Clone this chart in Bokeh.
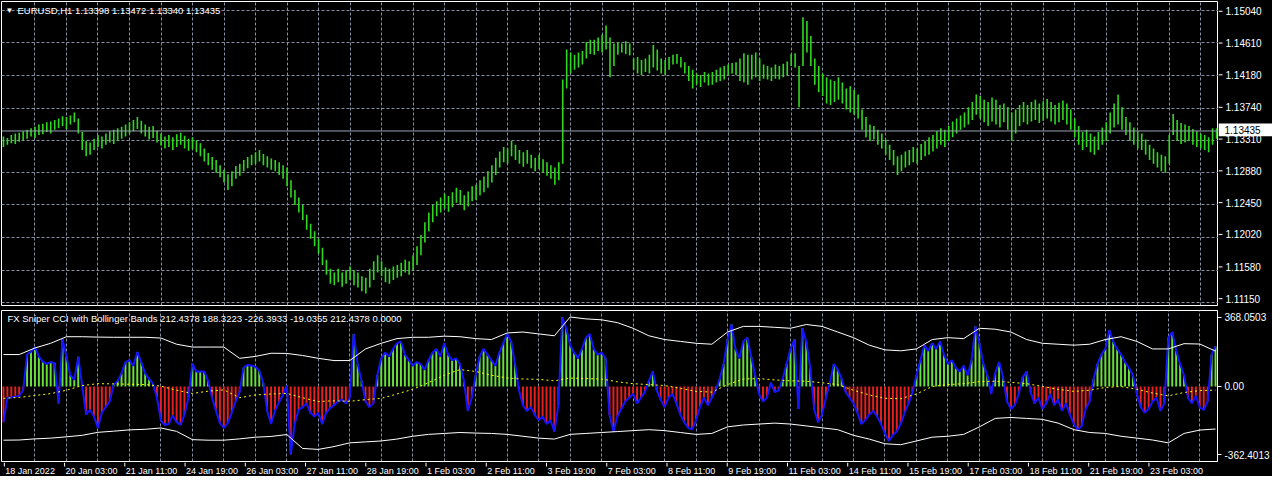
from bokeh.plotting import figure
from bokeh.layouts import column, row
from bokeh.models import (FixedTicker, CustomJSTickFormatter, Label, Span, Range1d)
from bokeh.core.properties import value
from bokeh.embed import file_html
from bokeh.resources import INLINE

# ---------------- data (2-hour steps) ----------------
lows = [1.1322,1.1325,1.1327,1.1326,1.1329,1.1331,1.1333,1.1336,1.1334,1.1338,
        1.1339,1.1342,1.1340,1.1345,1.1347,1.1350,1.1346,1.1352,1.1355,1.1340,
        1.1318,1.1310,1.1312,1.1318,1.1322,1.1320,1.1325,1.1328,1.1326,1.1330,
        1.1333,1.1336,1.1340,1.1343,1.1346,1.1340,1.1336,1.1332,1.1334,1.1328,
        1.1324,1.1320,1.1322,1.1318,1.1322,1.1325,1.1320,1.1317,1.1319,1.1315,
        1.1310,1.1303,1.1298,1.1292,1.1288,1.1282,1.1275,1.1265,1.1270,1.1280,
        1.1284,1.1290,1.1294,1.1298,1.1300,1.1303,1.1298,1.1295,1.1292,1.1290,
        1.1285,1.1280,1.1270,1.1255,1.1245,1.1235,1.1225,1.1212,1.1200,1.1190,
        1.1180,1.1165,1.1152,1.1140,1.1138,1.1142,1.1136,1.1140,1.1145,1.1138,
        1.1135,1.1130,1.1127,1.1135,1.1145,1.1155,1.1150,1.1142,1.1140,1.1145,
        1.1148,1.1150,1.1155,1.1152,1.1158,1.1165,1.1178,1.1195,1.1210,1.1222,
        1.1230,1.1235,1.1240,1.1236,1.1242,1.1248,1.1245,1.1238,1.1243,1.1250,
        1.1252,1.1258,1.1262,1.1268,1.1275,1.1285,1.1295,1.1302,1.1300,1.1310,
        1.1305,1.1300,1.1296,1.1300,1.1294,1.1290,1.1293,1.1288,1.1284,1.1280,
        1.1272,1.1278,1.1300,1.1400,1.1420,1.1425,1.1428,1.1432,1.1440,1.1446,
        1.1445,1.1450,1.1448,1.1452,1.1415,1.1430,1.1445,1.1448,1.1446,1.1444,
        1.1425,1.1420,1.1418,1.1422,1.1420,1.1428,1.1424,1.1420,1.1418,1.1425,
        1.1432,1.1433,1.1428,1.1420,1.1410,1.1400,1.1405,1.1402,1.1408,1.1404,
        1.1405,1.1408,1.1410,1.1412,1.1418,1.1420,1.1418,1.1410,1.1408,1.1405,
        1.1412,1.1415,1.1410,1.1413,1.1412,1.1410,1.1413,1.1412,1.1415,1.1418,
        1.1430,1.1428,1.1375,1.1430,1.1448,1.1430,1.1405,1.1395,1.1390,1.1380,
        1.1378,1.1382,1.1385,1.1380,1.1372,1.1368,1.1365,1.1360,1.1345,1.1335,
        1.1330,1.1332,1.1325,1.1320,1.1312,1.1305,1.1298,1.1285,1.1290,1.1295,
        1.1298,1.1302,1.1300,1.1305,1.1310,1.1312,1.1316,1.1320,1.1325,1.1322,
        1.1330,1.1335,1.1340,1.1345,1.1348,1.1352,1.1358,1.1365,1.1360,1.1355,
        1.1350,1.1356,1.1352,1.1348,1.1355,1.1345,1.1330,1.1340,1.1350,1.1355,
        1.1352,1.1356,1.1358,1.1354,1.1357,1.1360,1.1356,1.1352,1.1355,1.1358,
        1.1352,1.1345,1.1335,1.1325,1.1318,1.1322,1.1315,1.1312,1.1318,1.1325,
        1.1330,1.1340,1.1348,1.1352,1.1345,1.1338,1.1330,1.1325,1.1320,1.1318,
        1.1312,1.1305,1.1300,1.1295,1.1290,1.1288,1.1300,1.1338,1.1330,1.1326,
        1.1328,1.1330,1.1325,1.1322,1.1320,1.1318,1.1315,1.1325,1.1333]

highs = [1.1336,1.1334,1.1338,1.1340,1.1341,1.1343,1.1345,1.1347,1.1349,1.1352,
         1.1353,1.1355,1.1356,1.1358,1.1360,1.1363,1.1362,1.1364,1.1368,1.1360,
         1.1342,1.1330,1.1328,1.1333,1.1338,1.1336,1.1340,1.1343,1.1345,1.1347,
         1.1349,1.1352,1.1355,1.1358,1.1362,1.1357,1.1352,1.1349,1.1350,1.1344,
         1.1340,1.1336,1.1338,1.1335,1.1339,1.1341,1.1337,1.1333,1.1335,1.1331,
         1.1327,1.1320,1.1314,1.1309,1.1305,1.1298,1.1292,1.1286,1.1290,1.1297,
         1.1300,1.1305,1.1309,1.1312,1.1315,1.1318,1.1313,1.1310,1.1307,1.1305,
         1.1302,1.1298,1.1295,1.1278,1.1265,1.1255,1.1245,1.1232,1.1220,1.1210,
         1.1200,1.1188,1.1172,1.1160,1.1155,1.1160,1.1155,1.1158,1.1163,1.1158,
         1.1155,1.1150,1.1148,1.1160,1.1170,1.1178,1.1170,1.1162,1.1160,1.1163,
         1.1165,1.1168,1.1172,1.1170,1.1178,1.1190,1.1205,1.1222,1.1235,1.1245,
         1.1250,1.1255,1.1260,1.1257,1.1262,1.1268,1.1265,1.1258,1.1263,1.1270,
         1.1272,1.1278,1.1283,1.1290,1.1298,1.1308,1.1316,1.1322,1.1320,1.1330,
         1.1325,1.1318,1.1315,1.1318,1.1312,1.1308,1.1312,1.1306,1.1302,1.1298,
         1.1295,1.1302,1.1412,1.1452,1.1448,1.1445,1.1448,1.1450,1.1462,1.1465,
         1.1465,1.1468,1.1472,1.1484,1.1468,1.1460,1.1462,1.1460,1.1463,1.1460,
         1.1440,1.1442,1.1438,1.1440,1.1445,1.1458,1.1452,1.1440,1.1438,1.1442,
         1.1445,1.1446,1.1442,1.1435,1.1430,1.1425,1.1420,1.1418,1.1422,1.1420,
         1.1422,1.1425,1.1428,1.1430,1.1432,1.1434,1.1435,1.1440,1.1447,1.1445,
         1.1445,1.1448,1.1440,1.1432,1.1430,1.1428,1.1432,1.1430,1.1433,1.1436,
         1.1446,1.1447,1.1430,1.1495,1.1490,1.1470,1.1440,1.1430,1.1420,1.1415,
         1.1412,1.1410,1.1415,1.1408,1.1400,1.1403,1.1398,1.1392,1.1372,1.1362,
         1.1352,1.1350,1.1345,1.1340,1.1332,1.1325,1.1318,1.1310,1.1312,1.1316,
         1.1318,1.1322,1.1320,1.1326,1.1330,1.1335,1.1338,1.1343,1.1347,1.1345,
         1.1350,1.1356,1.1360,1.1364,1.1368,1.1375,1.1382,1.1392,1.1390,1.1385,
         1.1382,1.1388,1.1385,1.1378,1.1380,1.1375,1.1368,1.1372,1.1378,1.1382,
         1.1378,1.1382,1.1385,1.1380,1.1383,1.1386,1.1382,1.1378,1.1381,1.1384,
         1.1380,1.1372,1.1360,1.1350,1.1342,1.1345,1.1340,1.1336,1.1342,1.1348,
         1.1355,1.1368,1.1380,1.1392,1.1375,1.1362,1.1355,1.1348,1.1343,1.1340,
         1.1332,1.1325,1.1320,1.1315,1.1312,1.1310,1.1338,1.1366,1.1358,1.1354,
         1.1352,1.1350,1.1346,1.1343,1.1340,1.1338,1.1335,1.1347,1.1347]

cci = [-190,-60,-58,-55,-50,-20,170,185,210,160,
       132,120,130,125,-90,253,160,60,35,158,
       5,-150,-125,-160,-221,-140,-110,-80,10,30,
       70,130,140,110,184,130,70,40,15,-60,
       -180,-205,-200,-155,-190,-205,-150,-60,123,80,
       80,80,30,-60,-130,-195,-220,-195,-140,-80,
       -30,100,115,112,105,85,20,-130,-200,-130,
       -85,-45,5,-362.4013,-200,-125,-110,-90,-140,-160,
       -140,-200,-140,-115,-100,-80,-70,-90,-60,280,
       120,30,-80,-110,-90,60,150,180,160,200,
       230,240,170,140,110,130,120,90,140,180,
       200,160,230,170,140,150,120,30,-130,-60,
       60,160,200,170,140,110,180,230,280,240,
       120,-20,-100,-130,-110,-150,-180,-160,-200,-180,
       -240,-100,368.0503,310,220,180,150,200,260,280,
       200,170,180,150,-150,-240,-160,-120,-80,-60,
       -40,-90,-60,-30,30,80,-20,-70,-110,-60,
       -40,-90,-150,-190,-220,-230,-180,-110,-60,-100,
       -60,-20,40,120,250,330,200,150,240,260,
       160,60,-40,-80,-60,20,-30,-20,40,120,
       200,250,-120,310,240,100,-120,-190,-150,-60,
       20,120,90,40,-30,-60,-90,-140,-200,-180,
       -150,-130,-160,-200,-250,-290,-260,-240,-200,-140,
       -90,-30,60,140,220,190,230,200,240,170,
       120,140,100,80,110,60,140,320,230,120,
       60,-40,70,130,50,-80,-120,-100,-40,50,
       80,-30,-90,-60,-120,-90,-40,-100,-70,-130,
       -90,-150,-200,-230,-210,-120,-80,40,120,170,
       200,300,240,200,170,130,100,60,-40,-110,
       -140,-120,-80,-60,-130,-90,260,290,190,120,
       60,-60,-90,-50,-110,-125,-80,170,212.4378]

band_idx = list(range(0, 305, 4)) + [308]
upper = [170,170,205,230,265,265,263,262,262,262,258,225,210,210,210,150,160,177,176,165,150,138,138,
         200,230,255,262,262,268,265,255,250,285,290,280,270,370,360,355,340,310,270,250,240,230,225,
         290,320,320,315,310,330,320,290,260,220,195,190,200,250,260,255,310,305,290,250,230,225,220,
         225,250,265,240,200,200,228,226,188.3223]
lower = [-286,-285,-279,-275,-268,-260,-244,-238,-231,-228,-221,-239,-283,-286,-286,-279,-270,-266,-256,
         -330,-335,-320,-300,
         -295,-290,-280,-265,-255,-250,-245,-248,-250,-255,-265,-275,-280,-255,-250,-245,-240,-235,-230,
         -235,-245,-255,-250,-215,-205,-200,-195,-200,-210,-220,-230,-260,-280,-305,-310,-290,-270,-265,
         -255,-215,-170,-165,-170,-175,-195,-230,-245,-250,-265,-275,-285,-300,-250,-232,-226.3933]
ma = [-63,-58,-48,-38,-20,5,15,14,12,10,2,-20,-37,-25,-18,-60,-45,-40,-37,-60,-80,-76,-79,
      -70,-63,-40,-15,20,60,90,80,60,45,40,38,30,45,42,40,25,15,10,5,-10,-26,-30,10,40,42,35,30,28,
      20,10,-20,-45,-63,-65,-40,0,10,15,26,28,22,15,0,-15,-26,-20,-5,0,-15,-35,-50,-32,-22,-19.0355]

price_ticks = [1.11150, 1.11580, 1.12020, 1.12450, 1.12880, 1.13310, 1.13740, 1.14180, 1.14610, 1.15040]
cci_ticks = [-362.4013, 0.0, 368.0503]
time_ticks = list(range(0, 305, 16))
time_grid = list(range(8, 305, 8))
time_labels = ["18 Jan 2022", "20 Jan 03:00", "21 Jan 11:00", "24 Jan 19:00", "26 Jan 03:00",
               "27 Jan 11:00", "28 Jan 19:00", "1 Feb 03:00", "2 Feb 11:00", "3 Feb 19:00",
               "7 Feb 03:00", "8 Feb 11:00", "9 Feb 19:00", "11 Feb 03:00", "14 Feb 11:00",
               "15 Feb 19:00", "17 Feb 03:00", "18 Feb 11:00", "21 Feb 19:00", "23 Feb 03:00"]
last_price = 1.13435
top_title = "EURUSD,H1  1.13398 1.13472 1.13340 1.13435"
bottom_title = "FX Sniper CCI with Bollinger Bands  212.4378 188.3223 -226.3933 -19.0355 212.4378 0.0000"

# ---------------- styling / geometry ----------------
BG = "black"
GRID = "#8791a3"
BAR = "#2fd81f"
HGREEN = "#66e03c"
HRED = "#e62020"
BLUE = "#1414ff"
FONT = "Liberation Sans"
W = 1272
LEFT, RIGHT = 1, 54
FRAME_W = W - LEFT - RIGHT
H1, TOP1, BOT1 = 309, 1, 4
FRAME_H1 = H1 - TOP1 - BOT1

idx = list(range(len(highs)))
X0, X1 = -0.5, 308.5
P0, P1 = 1.11111, 1.15159
C0, C1 = -399.4, 404.6
xr = Range1d(X0, X1)


def base(p):
    p.background_fill_color = BG
    p.border_fill_color = BG


def style(p):
    base(p)
    p.outline_line_color = "white"
    p.outline_line_width = 1
    p.xgrid.ticker = FixedTicker(ticks=time_grid)
    p.xgrid.grid_line_color = GRID
    p.xgrid.grid_line_dash = "3 2"


# ---- price pane ----
p1 = figure(width=LEFT + FRAME_W, height=H1, x_range=xr, y_range=Range1d(P0, P1),
            output_backend="svg", toolbar_location=None,
            x_axis_location=None, y_axis_location=None,
            min_border_left=LEFT, min_border_right=0, min_border_top=TOP1, min_border_bottom=BOT1)
style(p1)
p1.ygrid.ticker = FixedTicker(ticks=price_ticks)
p1.ygrid.grid_line_color = GRID
p1.ygrid.grid_line_dash = "3 2"

p1.segment(x0=idx, y0=lows, x1=idx, y1=highs, line_color=BAR, line_width=1.6)
p1.add_layout(Span(location=last_price, dimension="width", line_color="#9aa3b4", line_width=1))
p1.add_layout(Label(x=X0, y=P1, x_offset=4, y_offset=-9, text="\u25bc", text_color="white",
                    text_font_size="8px", text_baseline="middle"))
p1.add_layout(Label(x=X0, y=P1, x_offset=16, y_offset=-9, text=top_title, text_color="white",
                    text_font=FONT, text_font_size="9.5px", text_baseline="middle"))

# ---- price scale strip (same vertical scale as the price pane) ----
ppu = FRAME_H1 / (P1 - P0)
a_top = P1 + TOP1 / ppu
a_bot = P0 - BOT1 / ppu
a1 = figure(width=RIGHT, height=H1, x_range=Range1d(0, RIGHT), y_range=Range1d(a_bot, a_top),
            output_backend="svg", toolbar_location=None,
            x_axis_location=None, y_axis_location=None,
            min_border_left=0, min_border_right=0, min_border_top=0, min_border_bottom=0)
base(a1)
a1.outline_line_color = None
a1.xgrid.grid_line_color = None
a1.ygrid.grid_line_color = None
a1.segment(x0=[0] * len(price_ticks), y0=price_ticks, x1=[4] * len(price_ticks), y1=price_ticks,
           line_color="white", line_width=1)
a1.text(x=[7] * len(price_ticks), y=price_ticks, text=[f"{v:.5f}" for v in price_ticks],
        text_color="white", text_font=value(FONT), text_font_size="10px",
        text_baseline="middle", text_align="left")
box_h = 6.5 / ppu
a1.quad(left=[0], right=[RIGHT], bottom=[last_price - box_h], top=[last_price + box_h],
        fill_color="white", line_color=None)
a1.text(x=[6], y=[last_price], text=[f"{last_price:.5f}"], text_color="black",
        text_font=value(FONT), text_font_size="10px", text_baseline="middle", text_align="left")

# ---- CCI pane ----
p2 = figure(width=W, height=153, x_range=xr, y_range=Range1d(C0, C1),
            output_backend="svg", toolbar_location=None,
            x_axis_location=None, y_axis_location="right",
            min_border_left=LEFT, min_border_right=RIGHT, min_border_top=1, min_border_bottom=1)
style(p2)
p2.ygrid.grid_line_color = None
ya = p2.yaxis[0]
ya.ticker = FixedTicker(ticks=cci_ticks)
ya.formatter = CustomJSTickFormatter(
    code="return Math.abs(tick) < 1e-9 ? '0.00' : tick.toFixed(4);")
ya.axis_line_color = "white"
ya.major_tick_line_color = "white"
ya.minor_tick_line_color = None
ya.major_tick_out = 4
ya.major_tick_in = 0
ya.major_label_standoff = 3
ya.major_label_text_color = "white"
ya.major_label_text_font = FONT
ya.major_label_text_font_size = "10px"

pos = [v if v > 0 else 0 for v in cci]
neg = [v if v < 0 else 0 for v in cci]
p2.vbar(x=idx, top=pos, bottom=0, width=0.5, fill_color=HGREEN, line_color=None)
p2.vbar(x=idx, top=0, bottom=neg, width=0.5, fill_color=HRED, line_color=None)
p2.line(idx, cci, line_color=BLUE, line_width=2)
p2.line(band_idx, upper, line_color="white", line_width=1)
p2.line(band_idx, lower, line_color="white", line_width=1)
p2.line(band_idx, ma, line_color="yellow", line_width=1, line_dash="2 3")
p2.add_layout(Label(x=X0, y=C1, x_offset=6, y_offset=-8, text=bottom_title, text_color="white",
                    text_font=FONT, text_font_size="9.5px", text_baseline="middle"))

# ---- time scale strip (same horizontal scale as the panes) ----
H3 = 14
scale = FRAME_W / (X1 - X0)
t0 = X0 - LEFT / scale
t1 = t0 + W / scale
p3 = figure(width=W, height=H3, x_range=Range1d(t0, t1), y_range=Range1d(0, H3),
            output_backend="svg", toolbar_location=None,
            x_axis_location=None, y_axis_location=None,
            min_border_left=0, min_border_right=0, min_border_top=0, min_border_bottom=0)
base(p3)
p3.outline_line_color = None
p3.xgrid.grid_line_color = None
p3.ygrid.grid_line_color = None
p3.segment(x0=time_ticks, y0=[H3] * len(time_ticks), x1=time_ticks, y1=[H3 - 4] * len(time_ticks),
           line_color="white", line_width=1)
p3.text(x=time_ticks, y=[H3 / 2 - 1] * len(time_ticks), text=time_labels, text_color="white",
        text_font=value(FONT), text_font_size="9px", text_align="left",
        text_baseline="middle", x_offset=1)

layout = column(row(p1, a1, spacing=0), p2, p3, spacing=0)
layout.styles = {"background-color": "black"}
open("out.html", "w").write(file_html(layout, INLINE))
